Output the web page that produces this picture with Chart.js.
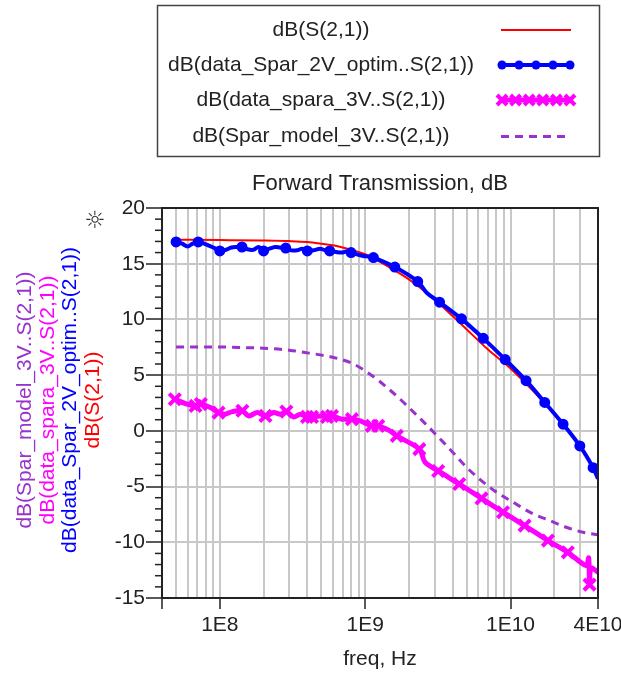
<!DOCTYPE html>
<html>
<head>
<meta charset="utf-8">
<script src="https://cdn.jsdelivr.net/npm/chart.js@4.4.1/dist/chart.umd.min.js"></script>
<style>
  body { margin: 0; background: #fff; }
  #wrap { width: 621px; height: 675px; }
</style>
</head>
<body>
<div id="wrap"><canvas id="chart" width="621" height="675"></canvas></div>
<script>
// series labels
const seriesLabels = [
  "dB(S(2,1))",
  "dB(data_Spar_2V_optim..S(2,1))",
  "dB(data_spara_3V..S(2,1))",
  "dB(Spar_model_3V..S(2,1))"
];

// dB(S(2,1)) - red
const redFreq = [5e7, 1e8, 2e8, 3e8, 4e8, 5e8, 6e8, 7e8, 8e8, 1e9, 1.25e9, 1.5e9, 2e9, 3e9, 4e9, 5e9, 7e9, 1e10, 1.5e10, 2e10, 3e10, 4e10];
const redDb = [17.15, 17.12, 17.08, 17.03, 16.95, 16.8, 16.65, 16.45, 16.25, 15.85, 15.2, 14.6, 13.6, 11.8, 10.3, 9.1, 7.3, 5.6, 3.3, 1.6, -1.3, -4.0];

// dB(data_Spar_2V_optim..S(2,1)) - blue
const blueFreq = [5e7, 5.5e7, 6e7, 6.5e7, 7.1e7, 7.8e7, 8.5e7, 9.2e7, 1e8, 1.1e8, 1.2e8, 1.3e8, 1.42e8, 1.55e8, 1.7e8, 1.85e8,
  2e8, 2.2e8, 2.4e8, 2.6e8, 2.84e8, 3.1e8, 3.4e8, 3.7e8, 4e8, 4.4e8, 4.9e8, 5.3e8, 5.7e8, 6.3e8, 6.9e8, 7.4e8, 8e8, 9e8, 9.7e8, 1.05e9,
  1.14e9, 1.6e9, 2.3e9, 2.65e9, 3.25e9, 4.6e9, 6.5e9, 9.2e9, 1.28e10, 1.72e10, 2.3e10, 3e10, 3.7e10, 4e10];
const blueDb = [16.95, 16.8, 16.55, 16.8, 16.95, 16.8, 16.6, 16.4, 16.15, 16.25, 16.45, 16.5, 16.5, 16.3, 16.25, 16.5,
  16.15, 16.35, 16.5, 16.45, 16.4, 16.2, 16.2, 16.35, 16.15, 16.2, 16.35, 16.2, 16.15, 16.05, 16.0, 16.1, 16.0, 15.8, 15.7, 15.65,
  15.55, 14.7, 13.4, 12.4, 11.55, 10.05, 8.3, 6.4, 4.5, 2.55, 0.6, -1.35, -3.3, -4.3];
const blueMarks = [5e7, 7.1e7, 1e8, 1.42e8, 2e8, 2.84e8, 4e8, 5.7e8, 8e8, 1.14e9, 1.6e9, 2.3e9, 3.25e9, 4.6e9, 6.5e9, 9.2e9, 1.28e10, 1.72e10, 2.3e10, 3e10, 3.7e10];

// dB(data_spara_3V..S(2,1)) - magenta
const magFreq = [4.9e7, 5.8e7, 6.8e7, 7.4e7, 8.6e7, 9.8e7, 1.09e8, 1.22e8, 1.43e8, 1.58e8, 1.81e8, 2.06e8, 2.35e8, 2.61e8, 2.87e8, 3.22e8, 3.58e8, 3.98e8, 4.31e8, 4.91e8, 5.46e8, 5.91e8, 6.92e8, 8.11e8, 9.25e8, 1.11e9, 1.23e9, 1.48e9, 1.65e9, 2.36e9, 2.58e9, 3.18e9, 4.44e9, 6.32e9, 8.89e9, 1.25e10, 1.81e10, 2.48e10, 3.32e10, 3.45e10, 3.5e10, 3.58e10, 4e10];
const magDb = [2.84, 2.45, 2.24, 2.4, 2.1, 1.64, 1.5, 1.73, 1.8, 1.34, 1.64, 1.34, 1.64, 1.5, 1.73, 1.25, 1.5, 1.25, 1.25, 1.34, 1.25, 1.34, 1.05, 1.05, 0.9, 0.45, 0.45, 0.0, -0.45, -1.64, -2.8, -3.6, -4.77, -6.06, -7.3, -8.5, -9.85, -10.9, -12.1, -11.4, -13.8, -12.3, -12.7];
const magMarks = [4.9e7, 6.8e7, 7.4e7, 9.8e7, 1.43e8, 2.06e8, 2.87e8, 3.98e8, 4.31e8, 5.46e8, 5.91e8, 8.11e8, 1.11e9, 1.23e9, 1.65e9, 2.36e9, 3.18e9, 4.44e9, 6.32e9, 8.89e9, 1.25e10, 1.81e10, 2.48e10, 3.5e10];

// dB(Spar_model_3V..S(2,1)) - purple dashed
const purpFreq = [5e7, 1e8, 1.5e8, 2e8, 3e8, 4e8, 6e8, 8e8, 1.05e9, 1.5e9, 2.5e9, 3.8e9, 5.1e9, 7.8e9, 1.04e10, 1.43e10, 1.86e10, 2.42e10, 3.15e10, 4e10];
const purpDb = [7.52, 7.52, 7.47, 7.42, 7.24, 7.0, 6.6, 6.1, 5.2, 3.6, 0.85, -1.6, -3.4, -5.4, -6.4, -7.45, -8.05, -8.65, -9.1, -9.33];

// axis ticks
const xGridTicks = [4e7, 5e7, 6e7, 7e7, 8e7, 9e7, 1e8, 2e8, 3e8, 4e8, 5e8, 6e8, 7e8, 8e8, 9e8,
  1e9, 2e9, 3e9, 4e9, 5e9, 6e9, 7e9, 8e9, 9e9, 1e10, 2e10, 3e10, 4e10];
const xLabelValues = [1e8, 1e9, 1e10, 4e10];
const xLabels = ["1E8", "1E9", "1E10", "4E10"];

const FONT = "Arial, 'Liberation Sans', sans-serif";
Chart.defaults.font.family = FONT;
Chart.defaults.color = "#222";

const pts = (fs, vs) => fs.map((f, i) => ({ x: f, y: vs[i] }));
const markRadius = (marks, r) => (ctx) => (ctx.raw && marks.includes(ctx.raw.x) ? r : 0);

// legend box, rotated axis titles, chart title, frame, minor ticks
const extras = {
  id: "extras",
  afterDraw(chart) {
    const c = chart.ctx;
    const area = chart.chartArea;
    const ys = chart.scales.y;
    c.save();

    // frame top/right
    c.strokeStyle = "#222";
    c.lineWidth = 2;
    c.beginPath();
    c.moveTo(area.left, area.top);
    c.lineTo(area.right, area.top);
    c.lineTo(area.right, area.bottom);
    c.stroke();

    // minor y ticks
    c.lineWidth = 1.5;
    for (let v = -15; v <= 20; v++) {
      if (v % 5 === 0) continue;
      const y = ys.getPixelForValue(v);
      c.beginPath();
      c.moveTo(area.left - 7, y);
      c.lineTo(area.left, y);
      c.stroke();
    }

    // title
    c.fillStyle = "#222";
    c.font = "22px " + FONT;
    c.textAlign = "center";
    c.textBaseline = "middle";
    c.fillText("Forward Transmission, dB", (area.left + area.right) / 2, 184);

    // icon
    c.font = "24px 'DejaVu Sans'";
    c.fillStyle = "#333";
    c.fillText("\u263C", 95, 222);

    // rotated y titles
    const colX = [93, 70, 48, 25];
    c.font = "21px " + FONT;
    chart.data.datasets.forEach((ds, i) => {
      c.save();
      c.translate(colX[i], 400);
      c.rotate(-Math.PI / 2);
      c.fillStyle = ds.borderColor;
      c.fillText(ds.label, 0, 0);
      c.restore();
    });

    // legend box
    c.strokeStyle = "#444";
    c.lineWidth = 1.5;
    c.strokeRect(157.5, 5.5, 442, 151);
    const rowY = [30, 65, 100, 136.5];
    chart.data.datasets.forEach((ds, i) => {
      const y = rowY[i];
      c.fillStyle = "#222";
      c.font = "21px " + FONT;
      c.textAlign = "center";
      c.fillText(ds.label, 321, y);
      c.strokeStyle = ds.borderColor;
      c.lineWidth = ds.borderWidth;
      c.setLineDash(ds.borderDash || []);
      c.beginPath();
      c.moveTo(501, y);
      c.lineTo(571, y);
      c.stroke();
      c.setLineDash([]);
      if (ds.pointStyle === "circle") {
        for (let k = 0; k < 5; k++) {
          const x = 502 + k * 17;
          c.fillStyle = ds.borderColor;
          c.beginPath();
          c.arc(x, y, 4.5, 0, Math.PI * 2);
          c.fill();
        }
      } else if (ds.pointStyle === "crossRot") {
        c.lineWidth = 4;
        for (let k = 0; k < 6; k++) {
          const x = 502 + k * 13.6;
          c.beginPath();
          c.moveTo(x - 5, y - 5); c.lineTo(x + 5, y + 5);
          c.moveTo(x - 5, y + 5); c.lineTo(x + 5, y - 5);
          c.stroke();
        }
      }
    });
    c.restore();
  }
};

new Chart(document.getElementById("chart"), {
  type: "line",
  data: {
    datasets: [
      {
        label: seriesLabels[0],
        data: pts(redFreq, redDb),
        borderColor: "#ff0000",
        borderWidth: 2,
        pointRadius: 0,
        cubicInterpolationMode: "monotone",
        order: 4
      },
      {
        label: seriesLabels[1],
        data: pts(blueFreq, blueDb),
        borderColor: "#0000ff",
        borderWidth: 4,
        tension: 0.35,
        pointStyle: "circle",
        pointRadius: markRadius(blueMarks, 4.5),
        pointBackgroundColor: "#0000ff",
        pointBorderColor: "#0000ff",
        pointBorderWidth: 2,
        order: 1
      },
      {
        label: seriesLabels[2],
        data: pts(magFreq, magDb),
        borderColor: "#ff00ff",
        borderWidth: 5,
        tension: 0.3,
        pointStyle: "crossRot",
        pointRadius: markRadius(magMarks, 8),
        pointBorderColor: "#ff00ff",
        pointBorderWidth: 4,
        order: 2
      },
      {
        label: seriesLabels[3],
        data: pts(purpFreq, purpDb),
        borderColor: "#9932cc",
        borderWidth: 3,
        borderDash: [8, 6],
        pointRadius: 0,
        cubicInterpolationMode: "monotone",
        order: 3
      }
    ]
  },
  options: {
    responsive: false,
    animation: false,
    layout: { padding: { top: 208, right: 23, left: 0, bottom: 0 } },
    plugins: { legend: { display: false }, tooltip: { enabled: false }, title: { display: false } },
    scales: {
      x: {
        type: "logarithmic",
        min: 4e7,
        max: 4e10,
        afterBuildTicks: (axis) => { axis.ticks = xGridTicks.map((v) => ({ value: v })); },
        afterFit: (axis) => { axis.height = 77; axis.paddingLeft = 0; axis.paddingRight = 0; },
        ticks: {
          autoSkip: false,
          maxRotation: 0,
          padding: 4,
          font: { size: 21 },
          color: "#222",
          callback: (v) => {
            const k = xLabelValues.indexOf(v);
            return k >= 0 ? xLabels[k] : "";
          }
        },
        grid: {
          color: "#c8c8c8",
          lineWidth: 2,
          tickLength: 11,
          tickWidth: 1.5,
          tickColor: (ctx) => (ctx.tick && (xLabelValues.includes(ctx.tick.value) || ctx.tick.value === 4e7) ? "#222" : "rgba(0,0,0,0)")
        },
        border: { color: "#222", width: 2 },
        title: { display: true, text: "freq, Hz", font: { size: 21 }, color: "#222", padding: { top: 0, bottom: 3 } }
      },
      y: {
        min: -15,
        max: 20,
        afterFit: (axis) => { axis.width = 162; axis.paddingTop = 0; axis.paddingBottom = 0; },
        ticks: { stepSize: 5, padding: 1, font: { size: 21 }, color: "#222" },
        grid: { color: "#c8c8c8", lineWidth: 2, tickLength: 16, tickWidth: 1.5, tickColor: "#222" },
        border: { color: "#222", width: 2 }
      }
    }
  },
  plugins: [extras]
});
</script>
</body>
</html>
